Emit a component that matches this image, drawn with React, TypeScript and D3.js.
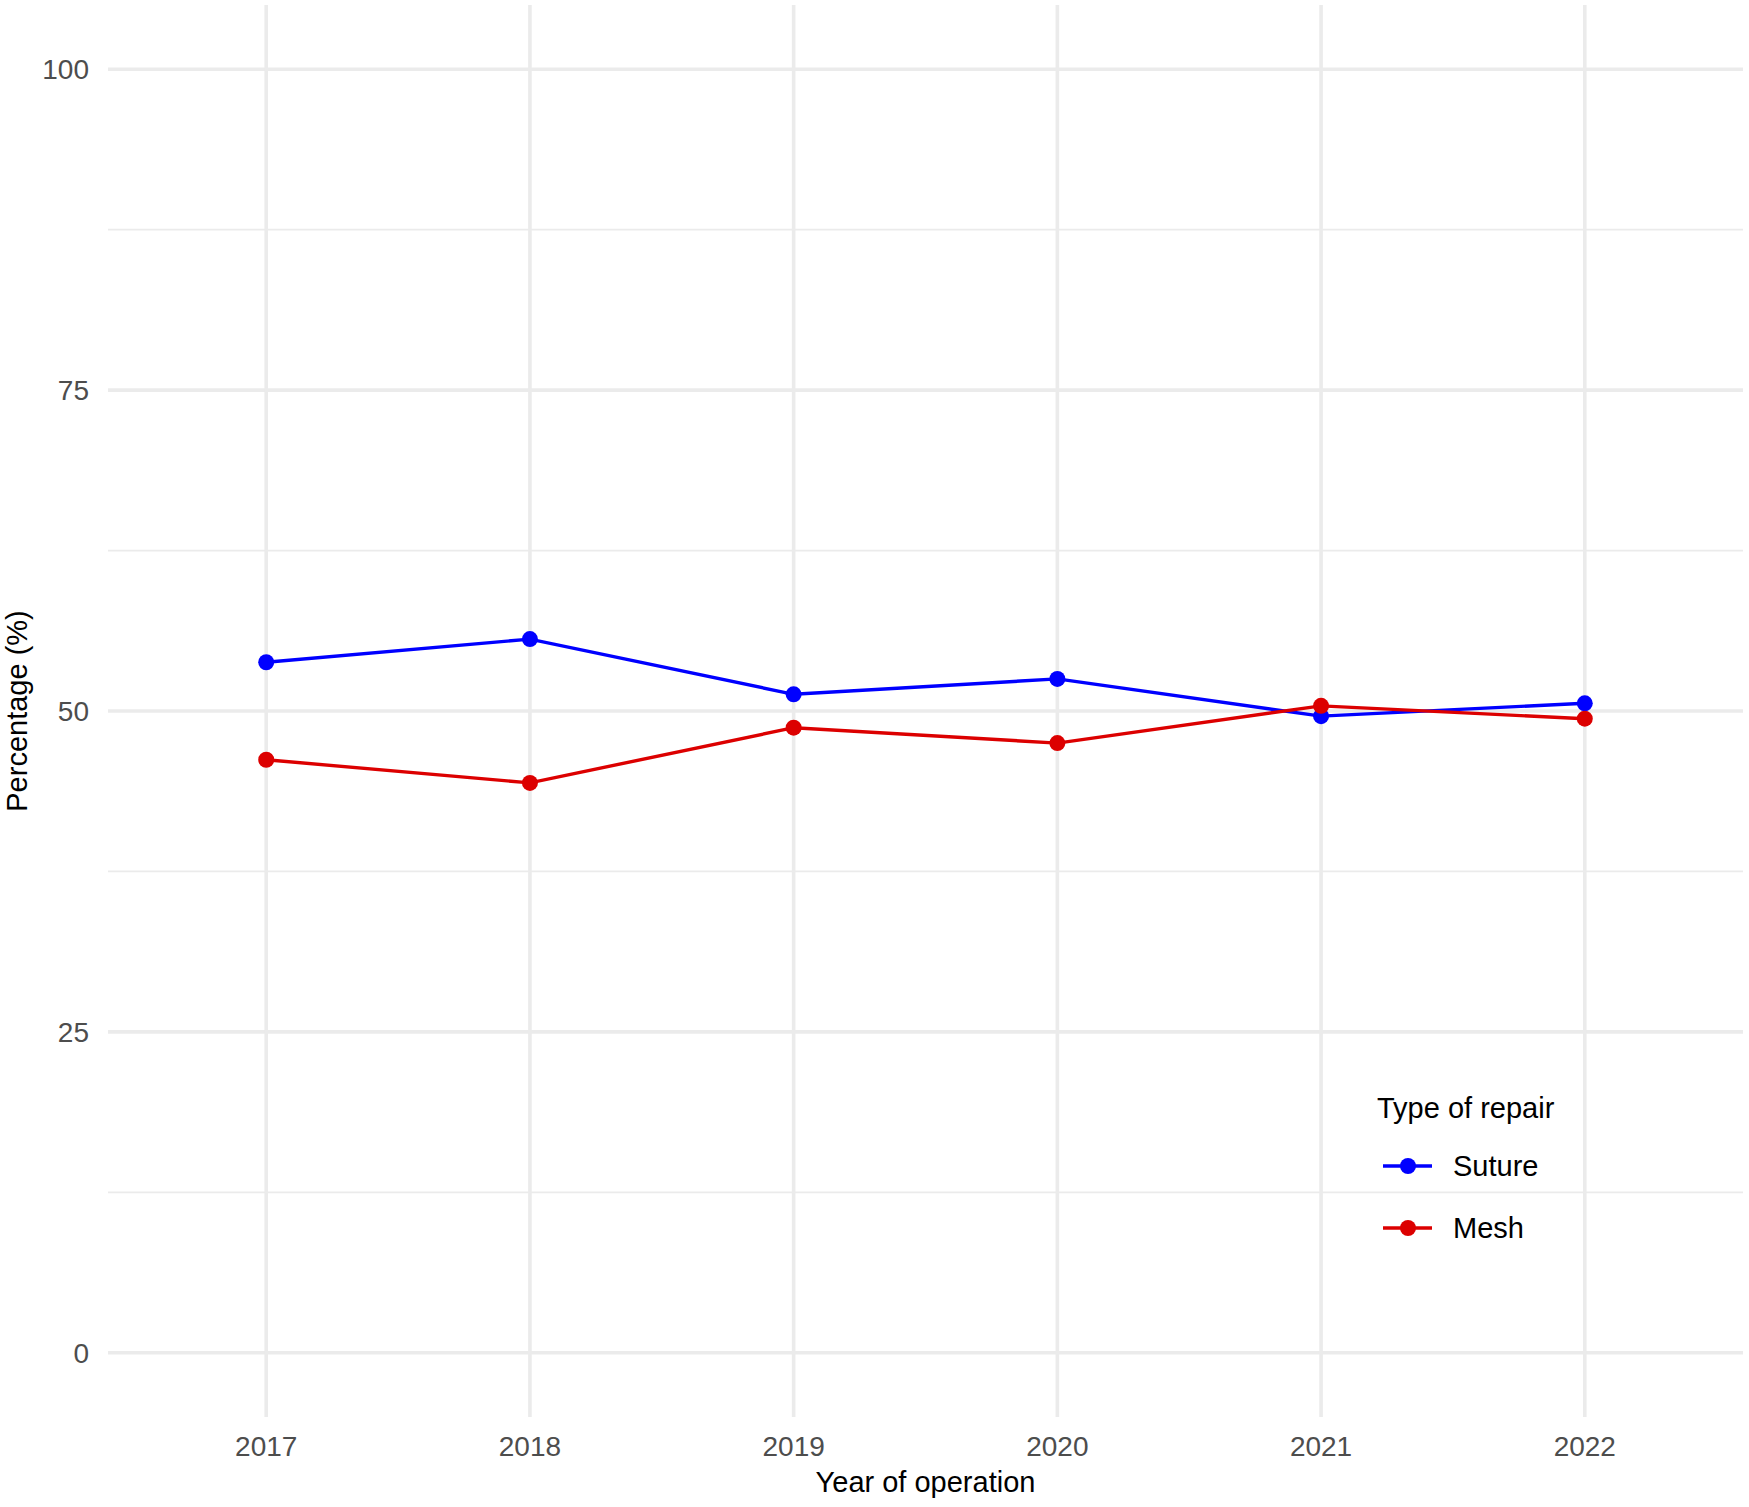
import { useEffect, useRef } from "react";
import * as d3 from "d3";

const years = ["2017", "2018", "2019", "2020", "2021", "2022"];
const suture = [53.8, 55.6, 51.3, 52.5, 49.6, 50.6];
const mesh = [46.2, 44.4, 48.7, 47.5, 50.4, 49.4];
const yTicks = [0, 25, 50, 75, 100];
const yMinor = [12.5, 37.5, 62.5, 87.5];
const seriesNames = ["Suture", "Mesh"];
const seriesColors = ["#0000ff", "#dc0000"];

export default function App() {
  const ref = useRef<SVGSVGElement | null>(null);

  useEffect(() => {
    if (!ref.current) return;
    const svg = d3.select(ref.current);
    svg.selectAll("*").remove();

    const width = 1749;
    const height = 1507;
    const panel = { left: 108, right: 1743, top: 5, bottom: 1417 };
    const font = "'Liberation Sans', Arial, sans-serif";

    // discrete x with ggplot-style 0.6 expansion
    const x = d3
      .scalePoint<string>()
      .domain(years)
      .range([panel.left, panel.right])
      .padding(0.6);

    const y = d3
      .scaleLinear()
      .domain([-5, 105])
      .range([panel.bottom, panel.top]);

    svg.attr("width", width).attr("height", height);
    svg.append("rect").attr("width", width).attr("height", height).attr("fill", "white");

    const grid = svg.append("g");
    grid
      .selectAll("line.minor")
      .data(yMinor)
      .join("line")
      .attr("x1", panel.left)
      .attr("x2", panel.right)
      .attr("y1", (d) => y(d))
      .attr("y2", (d) => y(d))
      .attr("stroke", "#ebebeb")
      .attr("stroke-width", 1.8);
    grid
      .selectAll("line.majorY")
      .data(yTicks)
      .join("line")
      .attr("x1", panel.left)
      .attr("x2", panel.right)
      .attr("y1", (d) => y(d))
      .attr("y2", (d) => y(d))
      .attr("stroke", "#ebebeb")
      .attr("stroke-width", 3.6);
    grid
      .selectAll("line.majorX")
      .data(years)
      .join("line")
      .attr("x1", (d) => x(d) ?? 0)
      .attr("x2", (d) => x(d) ?? 0)
      .attr("y1", panel.top)
      .attr("y2", panel.bottom)
      .attr("stroke", "#ebebeb")
      .attr("stroke-width", 3.6);

    // tick labels
    svg
      .append("g")
      .selectAll("text")
      .data(yTicks)
      .join("text")
      .attr("x", 89)
      .attr("y", (d) => y(d))
      .attr("dy", "0.36em")
      .attr("text-anchor", "end")
      .attr("font-family", font)
      .attr("font-size", 28)
      .attr("fill", "#4d4d4d")
      .text((d) => d);

    svg
      .append("g")
      .selectAll("text")
      .data(years)
      .join("text")
      .attr("x", (d) => x(d) ?? 0)
      .attr("y", 1456)
      .attr("text-anchor", "middle")
      .attr("font-family", font)
      .attr("font-size", 28)
      .attr("fill", "#4d4d4d")
      .text((d) => d);

    // axis titles
    svg
      .append("text")
      .attr("x", (panel.left + panel.right) / 2)
      .attr("y", 1492)
      .attr("text-anchor", "middle")
      .attr("font-family", font)
      .attr("font-size", 29)
      .attr("fill", "black")
      .text("Year of operation");

    svg
      .append("text")
      .attr("transform", `translate(27,${(panel.top + panel.bottom) / 2}) rotate(-90)`)
      .attr("text-anchor", "middle")
      .attr("font-family", font)
      .attr("font-size", 29)
      .attr("fill", "black")
      .text("Percentage (%)");

    // series
    const line = d3
      .line<number>()
      .x((_, i) => x(years[i]) ?? 0)
      .y((d) => y(d));

    [suture, mesh].forEach((vals, k) => {
      const g = svg.append("g");
      g.append("path")
        .attr("d", line(vals))
        .attr("fill", "none")
        .attr("stroke", seriesColors[k])
        .attr("stroke-width", 3.4);
      g.selectAll("circle")
        .data(vals)
        .join("circle")
        .attr("cx", (_, i) => x(years[i]) ?? 0)
        .attr("cy", (d) => y(d))
        .attr("r", 8)
        .attr("fill", seriesColors[k]);
    });

    // legend
    const legend = svg.append("g");
    legend
      .append("text")
      .attr("x", 1377)
      .attr("y", 1108)
      .attr("dy", "0.36em")
      .attr("font-family", font)
      .attr("font-size", 29)
      .attr("fill", "black")
      .text("Type of repair");

    seriesNames.forEach((name, k) => {
      const cy = 1166 + k * 62;
      legend
        .append("line")
        .attr("x1", 1383)
        .attr("x2", 1432)
        .attr("y1", cy)
        .attr("y2", cy)
        .attr("stroke", seriesColors[k])
        .attr("stroke-width", 3.4);
      legend
        .append("circle")
        .attr("cx", 1408)
        .attr("cy", cy)
        .attr("r", 8)
        .attr("fill", seriesColors[k]);
      legend
        .append("text")
        .attr("x", 1453)
        .attr("y", cy)
        .attr("dy", "0.36em")
        .attr("font-family", font)
        .attr("font-size", 29)
        .attr("fill", "black")
        .text(name);
    });
  }, []);

  return (
    <svg
      ref={ref}
      width={1749}
      height={1507}
      style={{ position: "absolute", left: 0, top: 0, display: "block" }}
    />
  );
}
